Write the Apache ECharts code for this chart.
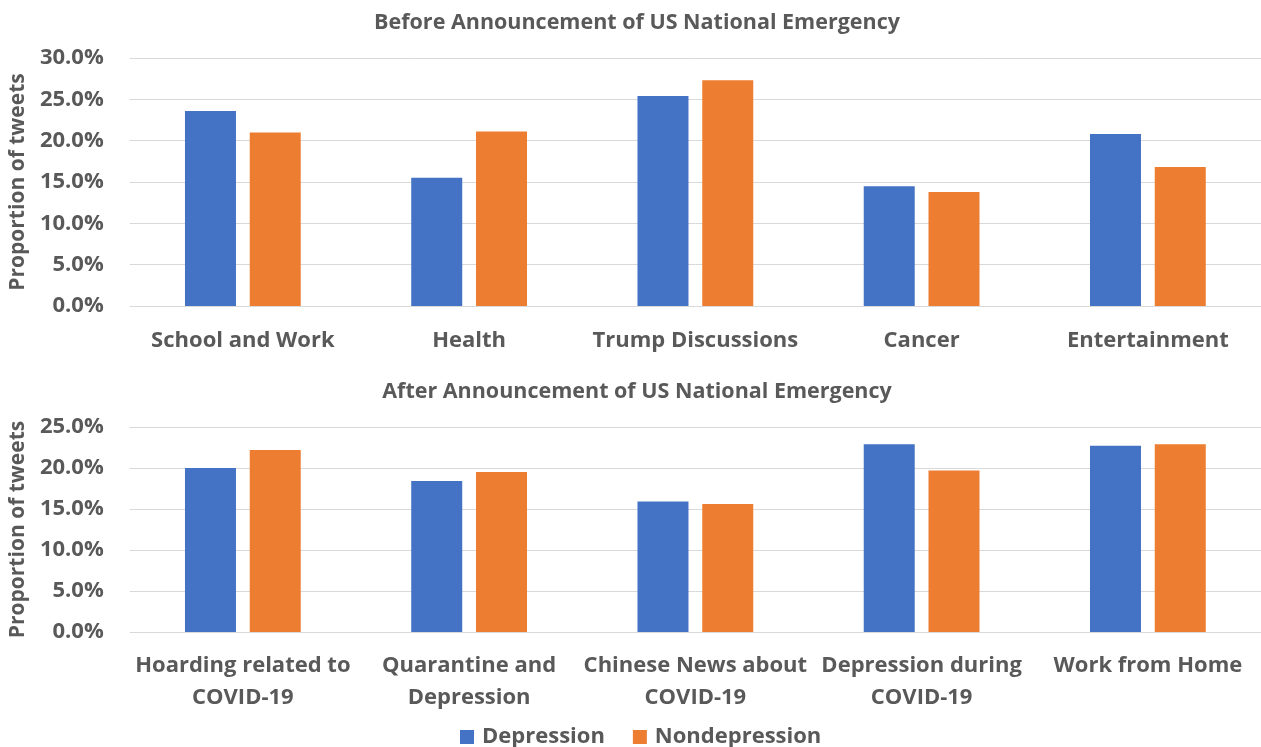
<!DOCTYPE html>
<html>
<head>
<meta charset="utf-8">
<title>Topic proportions before and after the US National Emergency</title>
<script src="https://cdn.jsdelivr.net/npm/echarts@6/dist/echarts.min.js"></script>
<style>
  html, body { margin: 0; padding: 0; background: #fff; }
  #chart { width: 1261px; height: 747px; }
</style>
</head>
<body>
<div id="chart"></div>
<script>
// Topic categories for each period
const beforeTopics = ['School and Work', 'Health', 'Trump Discussions', 'Cancer', 'Entertainment'];
const afterTopics = ['Hoarding related to\nCOVID-19', 'Quarantine and\nDepression', 'Chinese News about\nCOVID-19', 'Depression during\nCOVID-19', 'Work from Home'];

// Proportion of tweets (%) per topic
const beforeDepression = [23.6, 15.5, 25.4, 14.5, 20.8];
const beforeNondepression = [21.0, 21.1, 27.3, 13.8, 16.8];
const afterDepression = [20.0, 18.4, 15.9, 22.9, 22.7];
const afterNondepression = [22.2, 19.5, 15.6, 19.7, 22.9];

// Y-axis ranges
const beforeMax = 30;
const afterMax = 25;
const tickStep = 5;

const seriesNames = ['Depression', 'Nondepression'];
const BLUE = '#4472C4';
const ORANGE = '#ED7D31';
const TEXT = '#595959';
const FONT = 'Open Sans';
const FS = 22;

const chart = echarts.init(document.getElementById('chart'));

function yAxis(gridIndex, max) {
  return {
    type: 'value',
    gridIndex: gridIndex,
    min: 0,
    max: max,
    interval: tickStep,
    name: 'Proportion of tweets',
    nameLocation: 'middle',
    nameGap: 95,
    nameTextStyle: { color: TEXT, fontSize: 21, fontWeight: 'bold', fontFamily: FONT },
    axisLine: { show: false },
    axisTick: { show: false },
    axisLabel: {
      color: TEXT, fontSize: FS, fontWeight: 'bold', fontFamily: FONT, margin: 26,
      formatter: v => v.toFixed(1) + '%'
    },
    splitLine: { lineStyle: { color: '#D9D9D9', width: 1 } }
  };
}

function xAxis(gridIndex, data, margin) {
  return {
    type: 'category',
    gridIndex: gridIndex,
    data: data,
    axisLine: { show: false },
    axisTick: { show: false },
    axisLabel: {
      color: TEXT, fontSize: FS, fontWeight: 'bold', fontFamily: FONT,
      margin: margin, lineHeight: 32, interval: 0
    }
  };
}

function bar(name, data, color, axisIndex) {
  return {
    name: name,
    type: 'bar',
    xAxisIndex: axisIndex,
    yAxisIndex: axisIndex,
    data: data,
    barWidth: 51,
    barGap: '27%',
    itemStyle: { color: color },
    emphasis: { disabled: true }
  };
}

chart.setOption({
  animation: false,
  textStyle: { fontFamily: FONT },
  title: [
    {
      text: 'Before Announcement of US National Emergency',
      left: 632, top: 7, textAlign: 'center',
      textStyle: { color: TEXT, fontSize: 21.5, fontWeight: 'bold', fontFamily: FONT }
    },
    {
      text: 'After Announcement of US National Emergency',
      left: 632, top: 376, textAlign: 'center',
      textStyle: { color: TEXT, fontSize: 21.5, fontWeight: 'bold', fontFamily: FONT }
    }
  ],
  legend: {
    data: seriesNames,
    top: 721,
    left: 455,
    itemWidth: 14,
    itemHeight: 14,
    itemGap: 28,
    icon: 'rect',
    textStyle: { color: TEXT, fontSize: FS, fontWeight: 'bold', fontFamily: FONT, padding: [0, 0, 0, 3] }
  },
  grid: [
    { left: 128, width: 1138, top: 58, height: 248 },
    { left: 128, width: 1138, top: 427, height: 205 }
  ],
  xAxis: [
    xAxis(0, beforeTopics, 19),
    xAxis(1, afterTopics, 18)
  ],
  yAxis: [
    yAxis(0, beforeMax),
    yAxis(1, afterMax)
  ],
  series: [
    bar(seriesNames[0], beforeDepression, BLUE, 0),
    bar(seriesNames[1], beforeNondepression, ORANGE, 0),
    bar(seriesNames[0], afterDepression, BLUE, 1),
    bar(seriesNames[1], afterNondepression, ORANGE, 1)
  ]
});
</script>
</body>
</html>
